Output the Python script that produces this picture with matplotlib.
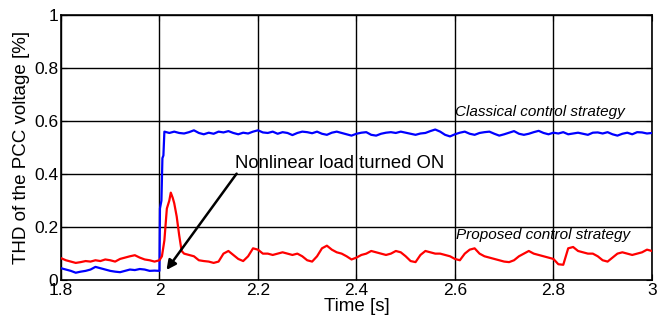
import matplotlib
matplotlib.use("Agg")
import matplotlib.pyplot as plt
import numpy as np
from matplotlib.ticker import FuncFormatter

plt.rcParams["font.family"] = ["Liberation Sans", "DejaVu Sans"]

# classical control (blue) - before the load step, 1.80..2.00 every 10 ms
blue_pre = [0.045, 0.04, 0.035, 0.028, 0.032, 0.035, 0.04, 0.05, 0.045, 0.04, 0.035,
            0.032, 0.03, 0.035, 0.04, 0.038, 0.042, 0.04, 0.035, 0.036, 0.035]
# step transient
blue_step_t = [2.001, 2.004, 2.006, 2.008, 2.010]
blue_step = [0.27, 0.30, 0.46, 0.47, 0.56]
# steady state 2.02..3.00 every 10 ms
blue_post = [0.555, 0.56, 0.555, 0.553, 0.558, 0.565, 0.555, 0.55, 0.556, 0.552,
             0.56, 0.557, 0.562, 0.555, 0.55, 0.556, 0.553, 0.56, 0.565, 0.557,
             0.555, 0.56, 0.552, 0.558, 0.555, 0.547, 0.555, 0.56, 0.558, 0.554,
             0.56, 0.552, 0.548, 0.556, 0.56, 0.555, 0.55, 0.545, 0.552, 0.556,
             0.558, 0.548, 0.545, 0.552, 0.556, 0.558, 0.555, 0.56, 0.556, 0.552,
             0.548, 0.553, 0.555, 0.562, 0.568, 0.56, 0.548, 0.542, 0.55, 0.556,
             0.56, 0.552, 0.548, 0.555, 0.558, 0.56, 0.552, 0.545, 0.55, 0.556,
             0.562, 0.552, 0.548, 0.552, 0.558, 0.563, 0.555, 0.55, 0.556, 0.553,
             0.558, 0.55, 0.553, 0.556, 0.552, 0.548, 0.556, 0.557, 0.553, 0.558,
             0.55, 0.545, 0.552, 0.556, 0.55, 0.558, 0.557, 0.553, 0.555]

# proposed control (red)
red_pre = [0.083, 0.075, 0.07, 0.065, 0.068, 0.072, 0.07, 0.075, 0.072, 0.078, 0.075,
           0.07, 0.08, 0.085, 0.09, 0.094, 0.085, 0.078, 0.075, 0.07, 0.075]
red_step_t = [2.005, 2.01, 2.015, 2.02, 2.023, 2.027, 2.03, 2.035, 2.04, 2.045, 2.05]
red_step = [0.09, 0.15, 0.27, 0.30, 0.33, 0.31, 0.29, 0.24, 0.17, 0.11, 0.10]
red_post = [0.095, 0.09, 0.075, 0.072, 0.07, 0.065, 0.07, 0.1, 0.11, 0.095,
            0.08, 0.072, 0.09, 0.12, 0.115, 0.1, 0.1, 0.095, 0.1, 0.105,
            0.1, 0.095, 0.1, 0.09, 0.075, 0.07, 0.09, 0.12, 0.13, 0.115,
            0.105, 0.1, 0.09, 0.078, 0.085, 0.095, 0.1, 0.11, 0.105, 0.1,
            0.095, 0.1, 0.11, 0.105, 0.09, 0.072, 0.068, 0.095, 0.11, 0.105,
            0.1, 0.1, 0.095, 0.09, 0.08, 0.075, 0.1, 0.115, 0.12, 0.1,
            0.09, 0.085, 0.08, 0.075, 0.07, 0.068, 0.075, 0.09, 0.1, 0.11,
            0.1, 0.095, 0.09, 0.085, 0.08, 0.06, 0.058, 0.12, 0.125, 0.11,
            0.105, 0.1, 0.1, 0.09, 0.075, 0.07, 0.085, 0.1, 0.105, 0.1,
            0.095, 0.1, 0.105, 0.115, 0.11]

x_ticks = [1.8, 2.0, 2.2, 2.4, 2.6, 2.8, 3.0]
y_ticks = [0, 0.2, 0.4, 0.6, 0.8, 1.0]

t_blue = np.concatenate([np.linspace(1.8, 2.0, len(blue_pre)), blue_step_t,
                         np.linspace(2.02, 3.0, len(blue_post))])
v_blue = np.concatenate([blue_pre, blue_step, blue_post])
t_red = np.concatenate([np.linspace(1.8, 2.0, len(red_pre)), red_step_t,
                        np.linspace(2.06, 3.0, len(red_post))])
v_red = np.concatenate([red_pre, red_step, red_post])

fig = plt.figure(figsize=(6.7, 3.25), dpi=100)
ax = fig.add_axes([0.091, 0.138, 0.882, 0.816])

ax.plot(t_blue, v_blue, color="#0000ff", lw=1.6, zorder=3)
ax.plot(t_red, v_red, color="#ff0000", lw=1.6, zorder=3)

ax.set_xlim(1.8, 3.0)
ax.set_ylim(0, 1)
ax.set_xticks(x_ticks)
ax.set_yticks(y_ticks)
fmt = FuncFormatter(lambda v, p: "%g" % v)
ax.xaxis.set_major_formatter(fmt)
ax.yaxis.set_major_formatter(fmt)
ax.grid(True, color="black", lw=1.0, zorder=1)
ax.tick_params(direction="in", labelsize=12.5, length=4, top=True, right=True, pad=2)
for s in ax.spines.values():
    s.set_linewidth(1.2)

ax.set_xlabel("Time [s]", fontsize=13.5, labelpad=0)
ax.set_ylabel("THD of the PCC voltage [%]", fontsize=13.5, labelpad=3)

ax.annotate("", xy=(2.011, 0.03), xytext=(2.16, 0.41),
            arrowprops=dict(arrowstyle="-|>", color="black", lw=1.8, mutation_scale=14),
            zorder=5)
ax.text(2.153, 0.44, "Nonlinear load turned ON", fontsize=13.3, ha="left", va="center", zorder=5)
ax.text(2.6, 0.607, "Classical control strategy", fontsize=11, style="italic",
        ha="left", va="bottom", zorder=5)
ax.text(2.603, 0.145, "Proposed control strategy", fontsize=11, style="italic",
        ha="left", va="bottom", zorder=5)

fig.savefig("out.png", dpi=100, facecolor="white")
